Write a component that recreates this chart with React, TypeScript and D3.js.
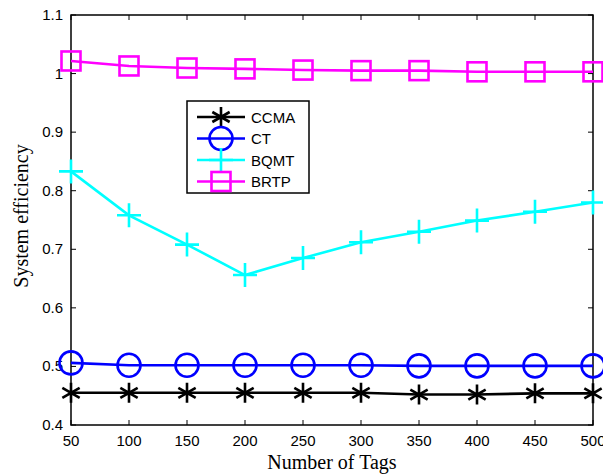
import React, { useEffect, useRef } from "react";
import * as d3 from "d3";

const tags = [50, 100, 150, 200, 250, 300, 350, 400, 450, 500];
const ccma = [0.455, 0.455, 0.455, 0.455, 0.455, 0.455, 0.452, 0.452, 0.454, 0.454];
const ct = [0.506, 0.502, 0.502, 0.502, 0.502, 0.502, 0.501, 0.501, 0.501, 0.501];
const bqmt = [0.833, 0.758, 0.708, 0.656, 0.685, 0.712, 0.730, 0.749, 0.764, 0.780];
const brtp = [1.0215, 1.013, 1.0095, 1.008, 1.006, 1.005, 1.005, 1.003, 1.003, 1.003];
const yTicks = [0.4, 0.5, 0.6, 0.7, 0.8, 0.9, 1.0, 1.1];
const yTickLabels = ["0.4", "0.5", "0.6", "0.7", "0.8", "0.9", "1", "1.1"];
const seriesNames = ["CCMA", "CT", "BQMT", "BRTP"];
const seriesColors = ["#000000", "#0000ff", "#00ffff", "#ff00ff"];
const seriesMarkers = ["star", "circle", "plus", "square"];

const W = 603, H = 476;
const L = 71, R = 593, T = 15, B = 425;

function drawMarker(g: any, type: string, x: number, y: number, color: string) {
  if (type === "circle") {
    g.append("circle").attr("cx", x).attr("cy", y).attr("r", 11.5)
      .attr("fill", "none").attr("stroke", color).attr("stroke-width", 2.6);
  } else if (type === "square") {
    g.append("rect").attr("x", x - 9.5).attr("y", y - 9.5).attr("width", 19).attr("height", 19)
      .attr("fill", "none").attr("stroke", color).attr("stroke-width", 2.6);
  } else if (type === "plus") {
    const s = 12;
    g.append("path").attr("d", `M${x - s},${y}H${x + s}M${x},${y - s}V${y + s}`)
      .attr("stroke", color).attr("stroke-width", 2.6).attr("fill", "none");
  } else if (type === "star") {
    const s = 10;
    const d = s * 0.866, e = s * 0.5;
    g.append("path")
      .attr("d", `M${x},${y - s}V${y + s}M${x - d},${y - e}L${x + d},${y + e}M${x - d},${y + e}L${x + d},${y - e}`)
      .attr("stroke", color).attr("stroke-width", 2.6).attr("fill", "none");
  }
}

export default function App() {
  const ref = useRef<SVGSVGElement>(null);
  useEffect(() => {
    const svg = d3.select(ref.current);
    svg.selectAll("*").remove();
    const x = d3.scaleLinear().domain([50, 500]).range([L, R]);
    const y = d3.scaleLinear().domain([0.4, 1.1]).range([B, T]);
    const sans = "'Liberation Sans', Arial, sans-serif";
    const serif = "'Liberation Serif', 'Times New Roman', serif";

    svg.append("rect").attr("x", 0).attr("y", 0).attr("width", W).attr("height", H).attr("fill", "#fff");

    svg.append("rect").attr("x", L).attr("y", T).attr("width", R - L).attr("height", B - T)
      .attr("fill", "none").attr("stroke", "#000").attr("stroke-width", 1.5);

    const tl = 5;
    tags.forEach((t) => {
      const px = x(t);
      svg.append("line").attr("x1", px).attr("x2", px).attr("y1", B).attr("y2", B - tl).attr("stroke", "#000");
      svg.append("line").attr("x1", px).attr("x2", px).attr("y1", T).attr("y2", T + tl).attr("stroke", "#000");
      svg.append("text").attr("x", px).attr("y", 446).attr("text-anchor", "middle")
        .attr("font-family", sans).attr("font-size", 15).text(String(t));
    });
    yTicks.forEach((v, i) => {
      const py = y(v);
      svg.append("line").attr("x1", L).attr("x2", L + tl).attr("y1", py).attr("y2", py).attr("stroke", "#000");
      svg.append("line").attr("x1", R).attr("x2", R - tl).attr("y1", py).attr("y2", py).attr("stroke", "#000");
      svg.append("text").attr("x", 63).attr("y", py + 5).attr("text-anchor", "end")
        .attr("font-family", sans).attr("font-size", 15).text(yTickLabels[i]);
    });

    svg.append("text").attr("x", (L + R) / 2).attr("y", 469).attr("text-anchor", "middle")
      .attr("font-family", serif).attr("font-size", 20).text("Number of Tags");
    svg.append("text").attr("transform", `translate(28,${(T + B) / 2 - 4}) rotate(-90)`).attr("text-anchor", "middle")
      .attr("font-family", serif).attr("font-size", 20).text("System efficiency");

    const all = [ccma, ct, bqmt, brtp];
    const line = d3.line<number>().x((_, i) => x(tags[i])).y((d) => y(d));
    all.forEach((vals, k) => {
      const g = svg.append("g");
      g.append("path").attr("d", line(vals)).attr("fill", "none")
        .attr("stroke", seriesColors[k]).attr("stroke-width", 2.6);
      vals.forEach((v, i) => drawMarker(g, seriesMarkers[k], x(tags[i]), y(v), seriesColors[k]));
    });

    const lg = svg.append("g");
    lg.append("rect").attr("x", 187).attr("y", 101).attr("width", 122).attr("height", 92)
      .attr("fill", "#fff").attr("stroke", "#000").attr("stroke-width", 1.5);
    seriesNames.forEach((n, k) => {
      const ly = 117 + k * 21.5;
      lg.append("line").attr("x1", 197).attr("x2", 245).attr("y1", ly).attr("y2", ly)
        .attr("stroke", seriesColors[k]).attr("stroke-width", 2.6);
      drawMarker(lg, seriesMarkers[k], 221, ly, seriesColors[k]);
      lg.append("text").attr("x", 251).attr("y", ly + 5.5).attr("font-family", sans).attr("font-size", 15).text(n);
    });
  }, []);
  return <svg ref={ref} width={W} height={H} style={{ position: "absolute", left: 0, top: 0 }} />;
}
